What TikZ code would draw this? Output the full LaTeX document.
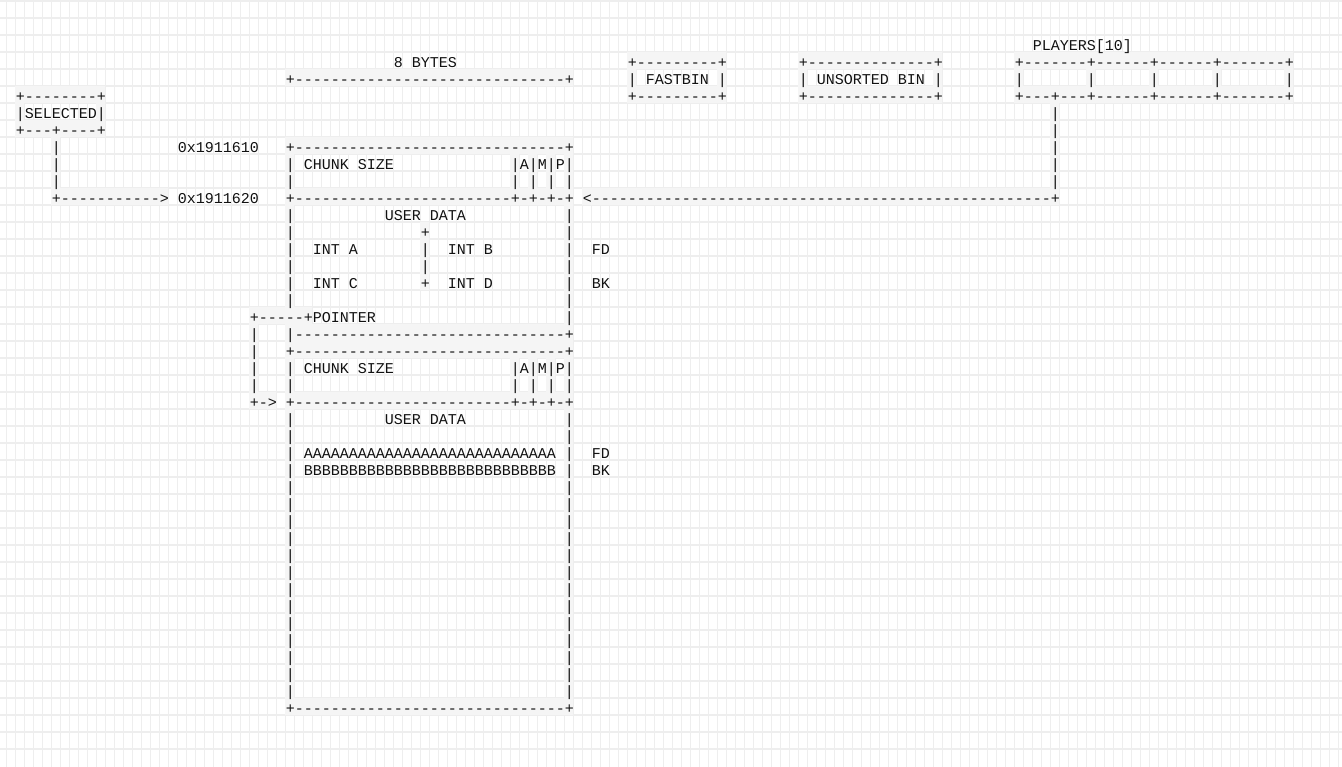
\documentclass[tikz,border=0pt]{standalone}
\usepackage{fontspec}
\setmonofont{Liberation Mono}
\definecolor{asciiGrid}{HTML}{EEEEEE}
\definecolor{asciiCell}{HTML}{F5F5F5}
\definecolor{asciiInk}{HTML}{111111}
\newcommand{\tendashes}{----------}

\begin{document}
\begin{tikzpicture}[
    x=6.75pt, y=-12.75pt,
    gridcol/.style={draw=asciiGrid, line width=0.75pt},
    gridrow/.style={draw=asciiGrid, line width=1pt},
    ruled/.style={fill=asciiCell},
    txt/.style={anchor=base west, inner sep=0pt, outer sep=0pt, xshift=0.6pt, yshift=-0.6pt, text=asciiInk, font=\ttfamily\fontsize{11.25pt}{13pt}\selectfont}
]
    \fill[white] (-0.667,-0.059) rectangle (148.444,45);
    \useasboundingbox (-0.667,-0.059) rectangle (148.444,45);

    % grid
    \foreach \i in {0,...,148}
        \draw[gridcol] (\i,-0.2) -- (\i,45.2);
    \foreach \j in {0,...,44}
        \draw[gridrow] (-1,\j) -- (149,\j);

    % cells behind line characters
    \foreach \a/\b/\r in {69/79/3, 88/103/3, 112/142/3, 31/62/4, 1/10/5, 69/79/5, 88/103/5, 112/142/5, 1/10/7, 31/62/8,
                          5/17/11, 31/62/11, 64/116/11, 27/33/18, 31/62/19, 31/62/20, 27/29/23, 31/62/23, 31/62/41}
        \fill[ruled] (\a,\r) rectangle (\b+1,\r+1);
    \foreach \c/\s/\e in {1/5/7, 10/5/7, 69/3/5, 79/3/5, 88/3/5, 103/3/5, 112/3/5, 120/3/5, 127/3/5, 134/3/5, 142/3/5,
                          116/5/11, 5/7/11, 31/8/41, 62/8/41, 56/8/11, 58/8/11, 60/8/11, 56/20/23, 58/20/23, 60/20/23,
                          46/13/16, 27/18/23}
        \fill[ruled] (\c,\s) rectangle (\c+1,\e+1);

    % bins and players
    \node[txt] (players) at (114,2.85) {PLAYERS[10]};
    \node[txt] (bytes) at (43,3.85) {8 BYTES};
    \node[txt] (fastTop) at (69,3.85) {+---------+};
    \node[txt] (fastbin) at (69,4.85) {| FASTBIN |};
    \node[txt] (fastBot) at (69,5.85) {+---------+};
    \node[txt] (unsTop) at (88,3.85) {+\tendashes----+};
    \node[txt] (unsorted) at (88,4.85) {| UNSORTED BIN |};
    \node[txt] (unsBot) at (88,5.85) {+\tendashes----+};
    \node[txt] (plTop) at (112,3.85) {+-------+------+------+-------+};
    \foreach \c in {112,120,127,134,142}
        \node[txt] (plSlot\c) at (\c,4.85) {|};
    \node[txt] (plBot) at (112,5.85) {+---+---+------+------+-------+};
    \foreach \r in {6,...,10}
        \node[txt] (plLink\r) at (116,\r+.85) {|};
    \node[txt] (plArrow) at (64,11.85) {<\tendashes\tendashes\tendashes\tendashes\tendashes-+};

    % selected
    \node[txt] (selTop) at (1,5.85) {+--------+};
    \node[txt] (selected) at (1,6.85) {|SELECTED|};
    \node[txt] (selBot) at (1,7.85) {+---+----+};
    \foreach \r in {8,9,10}
        \node[txt] (selLink\r) at (5,\r+.85) {|};
    \node[txt] (selArrow) at (5,11.85) {+\tendashes->};
    \node[txt] (addrA) at (19,8.85) {0x1911610};
    \node[txt] (addrB) at (19,11.85) {0x1911620};

    % first chunk
    \node[txt] (memTop) at (31,4.85) {+\tendashes\tendashes\tendashes+};
    \node[txt] (hdrTop) at (31,8.85) {+\tendashes\tendashes\tendashes+};
    \node[txt] (hdr) at (31,9.85) {| CHUNK SIZE};
    \node[txt] (flags) at (56,9.85) {|A|M|P|};
    \node[txt] (hdrWall) at (31,10.85) {|};
    \node[txt] (flagWalls) at (56,10.85) {|~|~|~|};
    \node[txt] (hdrBot) at (31,11.85) {+\tendashes\tendashes----+-+-+-+};
    \foreach \r in {12,...,17}
        \node[txt] (wallL\r) at (31,\r+.85) {|};
    \foreach \r in {12,...,18}
        \node[txt] (wallR\r) at (62,\r+.85) {|};
    \node[txt] (data) at (42,12.85) {USER DATA};
    \node[txt] (midTop) at (46,13.85) {+};
    \node[txt] (intA) at (34,14.85) {INT A};
    \node[txt] (midA) at (46,14.85) {|};
    \node[txt] (intB) at (49,14.85) {INT B};
    \node[txt] (fd) at (65,14.85) {FD};
    \node[txt] (midB) at (46,15.85) {|};
    \node[txt] (intC) at (34,16.85) {INT C};
    \node[txt] (midBot) at (46,16.85) {+};
    \node[txt] (intD) at (49,16.85) {INT D};
    \node[txt] (bk) at (65,16.85) {BK};

    % pointer into the next chunk
    \node[txt] (pointer) at (27,18.85) {+-----+POINTER};
    \foreach \r in {19,...,22}
        \node[txt] (ptrLink\r) at (27,\r+.85) {|};
    \node[txt] (ptrArrow) at (27,23.85) {+->};

    % second chunk
    \node[txt] (freeTop) at (31,19.85) {|\tendashes\tendashes\tendashes+};
    \node[txt] (hdr2Top) at (31,20.85) {+\tendashes\tendashes\tendashes+};
    \node[txt] (hdr2) at (31,21.85) {| CHUNK SIZE};
    \node[txt] (flags2) at (56,21.85) {|A|M|P|};
    \node[txt] (hdr2Wall) at (31,22.85) {|};
    \node[txt] (flag2Walls) at (56,22.85) {|~|~|~|};
    \node[txt] (hdr2Bot) at (31,23.85) {+\tendashes\tendashes----+-+-+-+};
    \foreach \r in {24,...,40}{
        \node[txt] (wall2L\r) at (31,\r+.85) {|};
        \node[txt] (wall2R\r) at (62,\r+.85) {|};
    }
    \node[txt] (data2) at (42,24.85) {USER DATA};
    \node[txt] (fillA) at (33,26.85) {AAAAAAAAAAAAAAAAAAAAAAAAAAAA};
    \node[txt] (fd2) at (65,26.85) {FD};
    \node[txt] (fillB) at (33,27.85) {BBBBBBBBBBBBBBBBBBBBBBBBBBBB};
    \node[txt] (bk2) at (65,27.85) {BK};
    \node[txt] (memBot) at (31,41.85) {+\tendashes\tendashes\tendashes+};
\end{tikzpicture}
\end{document}
